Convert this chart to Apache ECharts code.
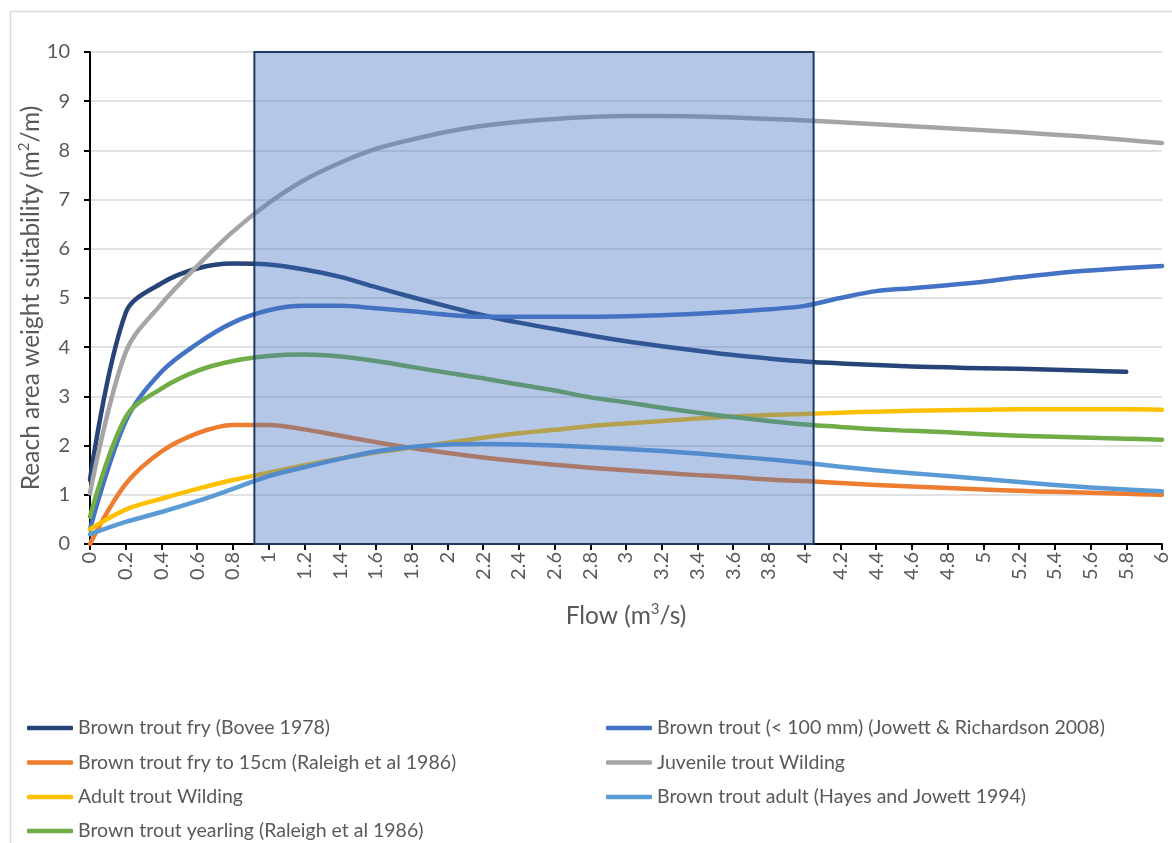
<!DOCTYPE html>
<html>
<head>
<meta charset="utf-8">
<script src="https://cdn.jsdelivr.net/npm/echarts@6/dist/echarts.min.js"></script>
<style>
html,body{margin:0;padding:0;background:#fff;}
#chart{width:1172px;height:843px;}
</style>
</head>
<body>
<div id="chart"></div>
<script>
// ---- data ----
const flows = [0,0.2,0.4,0.6,0.8,1.0,1.2,1.4,1.6,1.8,2.0,2.2,2.4,2.6,2.8,3.0,3.2,3.4,3.6,3.8,4.0,4.2,4.4,4.6,4.8,5.0,5.2,5.4,5.6,5.8,6.0];

const seriesNames = [
  'Brown trout fry (Bovee 1978)',
  'Brown trout (< 100 mm) (Jowett & Richardson 2008)',
  'Brown trout fry to 15cm (Raleigh et al 1986)',
  'Juvenile trout Wilding',
  'Adult trout Wilding',
  'Brown trout adult (Hayes and Jowett 1994)',
  'Brown trout yearling (Raleigh et al 1986)'
];

const fryBovee = [1.3,4.7,5.3,5.6,5.7,5.68,5.58,5.43,5.22,5.02,4.83,4.65,4.5,4.37,4.24,4.12,4.02,3.93,3.84,3.77,3.71,3.67,3.64,3.61,3.59,3.57,3.56,3.54,3.52,3.5,null];
const under100 = [0.3,2.5,3.5,4.07,4.5,4.75,4.84,4.84,4.79,4.73,4.66,4.62,4.62,4.62,4.62,4.63,4.65,4.68,4.72,4.77,4.84,5.0,5.14,5.2,5.26,5.33,5.42,5.5,5.56,5.61,5.65];
const fryTo15 = [0,1.22,1.88,2.25,2.42,2.42,2.33,2.2,2.07,1.95,1.85,1.76,1.68,1.61,1.55,1.5,1.45,1.4,1.36,1.31,1.28,1.24,1.2,1.17,1.14,1.11,1.08,1.06,1.04,1.02,1.0];
const juvenileWilding = [1.03,3.9,4.88,5.65,6.35,6.93,7.4,7.75,8.03,8.22,8.38,8.5,8.58,8.64,8.68,8.7,8.7,8.69,8.67,8.64,8.61,8.57,8.53,8.49,8.45,8.41,8.37,8.32,8.27,8.21,8.15];
const adultWilding = [0.3,0.7,0.92,1.12,1.3,1.45,1.6,1.74,1.86,1.96,2.06,2.16,2.25,2.32,2.4,2.45,2.5,2.55,2.59,2.62,2.64,2.67,2.69,2.71,2.72,2.73,2.74,2.74,2.74,2.74,2.73];
const adultHayes = [0.2,0.45,0.65,0.87,1.12,1.38,1.56,1.73,1.88,1.97,2.02,2.03,2.02,2.0,1.97,1.93,1.89,1.84,1.78,1.72,1.65,1.57,1.5,1.44,1.38,1.32,1.26,1.2,1.15,1.11,1.07];
const yearling = [0.55,2.58,3.16,3.52,3.72,3.82,3.85,3.81,3.72,3.6,3.48,3.37,3.24,3.12,2.98,2.88,2.77,2.67,2.58,2.5,2.43,2.38,2.33,2.3,2.27,2.23,2.2,2.18,2.16,2.14,2.12];

const bandFlow = [0.92, 4.05];   // shaded flow range
const bandY = [0, 10];

const colors = ['#264478','#4472C4','#ED7D31','#A5A5A5','#FFC000','#5B9BD5','#70AD47'];
const allValues = [fryBovee, under100, fryTo15, juvenileWilding, adultWilding, adultHayes, yearling];

const FONT = 'Lato';
const TXT = '#595959';

const lineSeries = allValues.map((vals, i) => ({
  name: seriesNames[i],
  type: 'line',
  data: flows.map((f, j) => [f, vals[j]]).filter(p => p[1] !== null),
  smooth: 0.35,
  symbol: 'none',
  lineStyle: { width: 4.5, color: colors[i], cap: 'round', join: 'round' },
  itemStyle: { color: colors[i] },
  z: 2 + i * 0.01
}));

const bandSeries = {
  type: 'custom',
  z: 10,
  silent: true,
  data: [[bandFlow[0], bandFlow[1], bandY[0], bandY[1]]],
  encode: { x: [0, 1], y: [2, 3] },
  renderItem: function (params, api) {
    const p0 = api.coord([api.value(0), api.value(3)]);
    const p1 = api.coord([api.value(1), api.value(2)]);
    return {
      type: 'rect',
      shape: { x: p0[0], y: p0[1], width: p1[0] - p0[0], height: p1[1] - p0[1] },
      style: { fill: 'rgba(68,114,196,0.4)', stroke: '#1F3864', lineWidth: 2 }
    };
  }
};

const chart = echarts.init(document.getElementById('chart'), null, { renderer: 'canvas' });

// legend layout: [series index, column, row]
const legendSlots = [[0, 0, 0], [2, 0, 1], [4, 0, 2], [6, 0, 3], [1, 1, 0], [3, 1, 1], [5, 1, 2]];
const legendLefts = [22, 601];
const legendRowCenters = [723, 757.5, 792, 826];

const legends = legendSlots.map(([si, col, row]) => ({
  orient: 'horizontal',
  left: legendLefts[col],
  top: legendRowCenters[row] - 12,
  itemWidth: 46,
  itemHeight: 4.5,
  icon: 'roundRect',
  textStyle: { fontFamily: FONT, fontSize: 19.5, color: TXT, lineHeight: 24 },
  selectedMode: false,
  data: [seriesNames[si]]
}));

const supRich = {
  sup: { fontFamily: FONT, fontSize: 15, color: TXT, verticalAlign: 'top', lineHeight: 28 },
  n: { fontFamily: FONT, fontSize: 24.5, color: TXT, lineHeight: 28 }
};

chart.setOption({
  animation: false,
  backgroundColor: '#fff',
  textStyle: { fontFamily: FONT },
  graphic: [{
    type: 'rect', left: 8, top: 9, silent: true,
    shape: { width: 1200, height: 900 },
    style: { fill: 'none', stroke: '#D9D9D9', lineWidth: 1.5 }
  }],
  grid: { left: 90, right: 9, top: 52, bottom: 299, containLabel: false },
  legend: legends,
  xAxis: {
    type: 'value', min: 0, max: 6, interval: 0.2,
    name: '{n|Flow (m}{sup|3}{n|/s)}', nameLocation: 'middle', nameGap: 58,
    nameMoveOverlap: false,
    nameTextStyle: { fontFamily: FONT, fontSize: 24.5, color: TXT, rich: supRich },
    axisLine: { show: true, lineStyle: { color: '#000', width: 2 } },
    axisTick: { show: true, length: 6, lineStyle: { color: '#000', width: 2 } },
    axisLabel: { rotate: 90, margin: 8, fontFamily: FONT, fontSize: 20, color: TXT,
      formatter: v => String(+v.toFixed(1)) },
    splitLine: { show: false }
  },
  yAxis: {
    type: 'value', min: 0, max: 10, interval: 1,
    name: '{n|Reach area weight suitability (m}{sup|2}{n|/m)}', nameLocation: 'middle', nameGap: 45,
    nameMoveOverlap: false,
    nameTextStyle: { fontFamily: FONT, fontSize: 24.5, color: TXT, rich: supRich },
    axisLine: { show: true, lineStyle: { color: '#000', width: 2 } },
    axisTick: { show: true, length: 6, lineStyle: { color: '#000', width: 2 } },
    axisLabel: { margin: 20, fontFamily: FONT, fontSize: 20, color: TXT },
    splitLine: { show: true, lineStyle: { color: '#D9D9D9', width: 1.5 } }
  },
  series: lineSeries.concat([bandSeries])
});
</script>
</body>
</html>
